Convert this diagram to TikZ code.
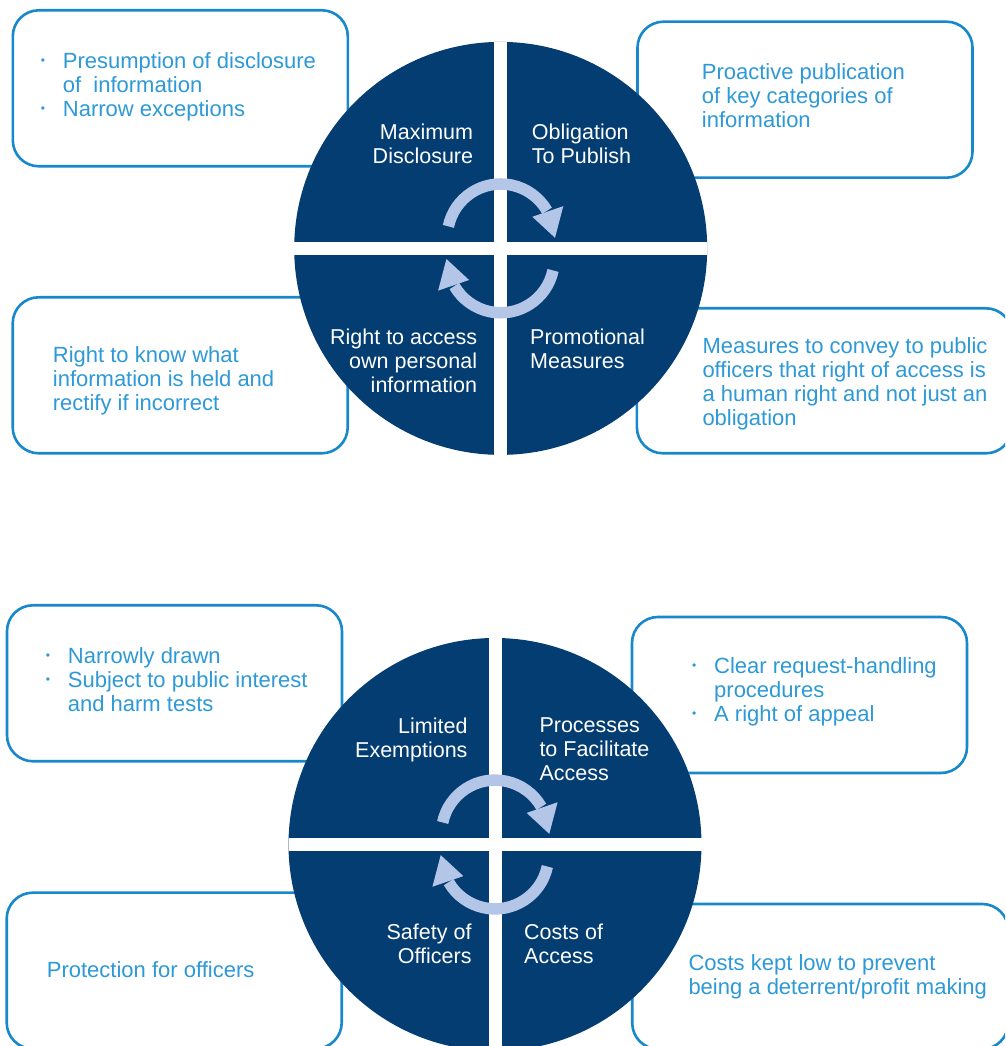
\documentclass[tikz,border=0pt]{standalone}
\usepackage{fontspec}
\setmainfont{Liberation Sans}
\usepackage{tikz}
\definecolor{wheelnavy}{RGB}{4,61,114}
\definecolor{boxblue}{RGB}{24,136,204}
\definecolor{textblue}{RGB}{45,153,214}
\definecolor{arrowblue}{RGB}{180,198,231}
\newcommand{\itembul}{\makebox[0pt][c]{\raisebox{4.2pt}{\fontsize{12}{12}\selectfont •}}\hspace*{20pt}}
\newcommand{\itemind}{\hspace*{20pt}}
\tikzset{
  cyclearrow/.pic={
    \draw[arrowblue,line width=11.5pt,shift={(0,10.9)}] (168:53.5) arc[start angle=168,end angle=30,radius=53.5];
    \fill[arrowblue,shift={(0,10.9)}] (33.2:37.8) -- (26.6:70) -- (-0.3:54.3) -- cycle;
  }
}

\begin{document}
\begin{tikzpicture}[x=1pt,y=1pt,
  infobox/.style={draw=boxblue,line width=2.6pt,rounded corners=26pt,fill=white,minimum width=335pt,minimum height=156pt,inner sep=0pt,outer sep=0pt},
  infotext/.style={text=textblue,font=\fontsize{22}{24}\selectfont,align=left,anchor=base west,inner sep=0pt},
  wheel/.style={circle,fill=wheelnavy,minimum size=413pt,inner sep=0pt,outer sep=0pt},
  gapline/.style={white,line width=13pt},
  wheeltext/.style={text=white,font=\fontsize{21.5}{24}\selectfont,inner sep=0pt},
  lefttext/.style={wheeltext,align=right,anchor=base east},
  righttext/.style={wheeltext,align=left,anchor=base west}]
\useasboundingbox (0,0) rectangle (1005,1046);
\clip (0,0) rectangle (1005,1046);

% upper wheel (text nodes sit on the baseline of their last line)
\node[infobox] (maxbox) at (180.3,957.7) {};
\node[infobox] (pubbox) at (805,946.3) {};
\node[infobox] (ownbox) at (180.2,670.7) {};
\node[infobox,minimum width=375pt,minimum height=145pt] (promobox) at (824.4,665.2) {};
\node[infotext] (maxtext) at (42.7,929.7) {\itembul Presumption of disclosure\\\itemind of~ information\\\itembul Narrow exceptions};
\node[infotext] (pubtext) at (701.7,918) {Proactive publication\\of key categories of\\information};
\node[infotext] (owntext) at (52.7,635.7) {Right to know what\\information is held and\\rectify if incorrect};
\node[infotext] (promotext) at (702.3,620.7) {Measures to convey to public\\officers that right of access is\\a human right and not just an\\obligation};

\node[wheel] (upper) at (500.7,797.6) {};
\draw[gapline] (upper.north) -- (upper.south);
\draw[gapline] (upper.west) -- (upper.east);
\pic at (upper.center) {cyclearrow};
\pic[rotate=180] at (upper.center) {cyclearrow};
\node[lefttext] (maxlabel) at (473.3,882.7) {Maximum\\Disclosure};
\node[righttext] (publabel) at (531.7,882.7) {Obligation\\To Publish};
\node[lefttext] (ownlabel) at (477.3,653) {Right to access\\own personal\\information};
\node[righttext] (promolabel) at (530,677) {Promotional\\Measures};

% lower wheel
\node[infobox] (exembox) at (174.5,362.7) {};
\node[infobox] (procbox) at (799.5,351) {};
\node[infobox] (safebox) at (174.2,75.3) {};
\node[infobox,minimum width=376pt,minimum height=145pt] (costbox) at (820.2,69.5) {};
\node[infotext] (exemtext) at (47.7,334) {\itembul Narrowly drawn\\\itembul Subject to public interest\\\itemind and harm tests};
\node[infotext] (proctext) at (694,324) {\itembul Clear request-handling\\\itemind procedures\\\itembul A right of appeal};
\node[infotext] (safetext) at (46.7,68.3) {Protection for officers};
\node[infotext] (costtext) at (688.3,51) {Costs kept low to prevent\\being a deterrent/profit making};

\node[wheel] (lower) at (495,201.5) {};
\draw[gapline] (lower.north) -- (lower.south);
\draw[gapline] (lower.west) -- (lower.east);
\pic at (lower.center) {cyclearrow};
\pic[rotate=180] at (lower.center) {cyclearrow};
\node[lefttext] (exemlabel) at (467.7,288.5) {Limited\\Exemptions};
\node[righttext] (proclabel) at (539.3,265.7) {Processes\\to Facilitate\\Access};
\node[lefttext] (safelabel) at (471.7,82) {Safety of\\Officers};
\node[righttext] (costlabel) at (524,82) {Costs of\\Access};
\end{tikzpicture}
\end{document}
